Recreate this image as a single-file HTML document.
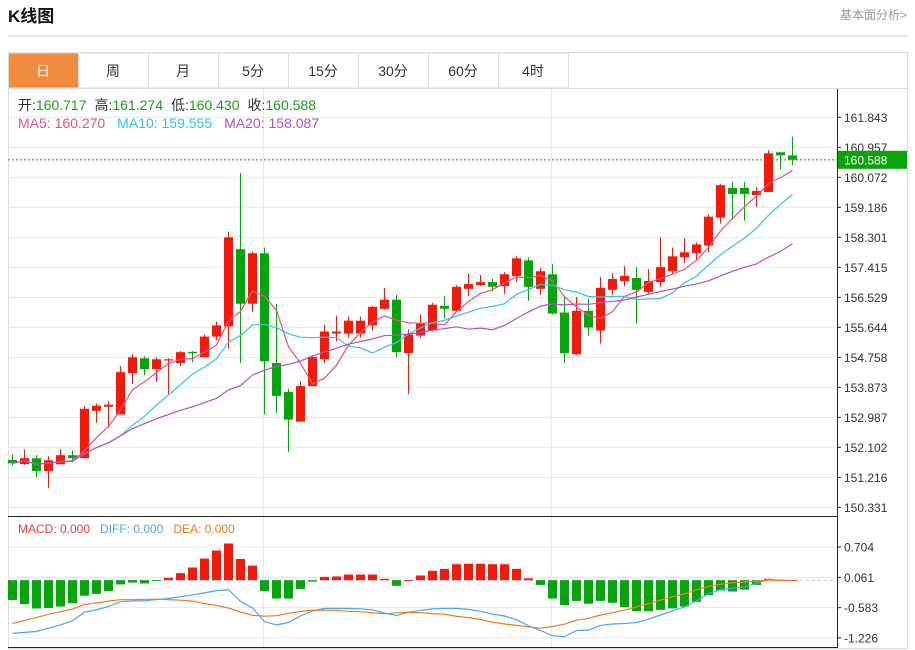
<!DOCTYPE html>
<html><head><meta charset="utf-8">
<style>
body{margin:0;background:#fff;font-family:"Liberation Sans","Noto Sans CJK SC",sans-serif;}
#wrap{position:relative;width:915px;height:650px;overflow:hidden;}
.t{font-family:"Liberation Sans","Noto Sans CJK SC",sans-serif;}
</style></head>
<body>
<div id="wrap">
<svg id="svg" width="915" height="650" xmlns="http://www.w3.org/2000/svg">
  <text x="8" y="22" font-size="17" font-weight="bold" class="t" fill="#111">K线图</text>
  <text x="907" y="19" font-size="12" text-anchor="end" class="t" fill="#999">基本面分析&gt;</text>
  <line x1="8" y1="36" x2="908" y2="36" stroke="#d0d0d0"/>
  <rect x="8.5" y="52.5" width="899" height="596" fill="none" stroke="#dcdcdc"/>
  <g id="tabs"></g>
  <line x1="8" y1="88.5" x2="908" y2="88.5" stroke="#dcdcdc"/>
  <g id="grid"></g>
  <g id="candles"></g>
  <g id="ma"></g>
  <g id="macd"></g>
  <g id="axis"></g>
  <text x="18" y="110" font-size="14" class="t"><tspan fill="#333">开:</tspan><tspan fill="#1a9e1a">160.717</tspan><tspan fill="#333" dx="8">高:</tspan><tspan fill="#1a9e1a">161.274</tspan><tspan fill="#333" dx="8">低:</tspan><tspan fill="#1a9e1a">160.430</tspan><tspan fill="#333" dx="8">收:</tspan><tspan fill="#1a9e1a">160.588</tspan></text>
  <text x="18" y="128" font-size="14" class="t"><tspan fill="#ee4f7f">MA5: 160.270</tspan><tspan fill="#35c3e0" dx="12">MA10: 159.555</tspan><tspan fill="#b253c8" dx="12">MA20: 158.087</tspan></text>
  <text x="18" y="533" font-size="12" class="t"><tspan fill="#f23a3a">MACD: 0.000</tspan><tspan fill="#4aa8f0" dx="10">DIFF: 0.000</tspan><tspan fill="#f57a1e" dx="10">DEA: 0.000</tspan></text>
</svg>
</div>
<script>
const tabLabels=["日","周","月","5分","15分","30分","60分","4时"];
const opens=[151.73,151.61,151.78,151.40,151.60,151.87,151.78,153.18,153.30,153.07,154.29,154.73,154.41,154.67,154.59,154.92,154.76,155.37,155.67,157.95,156.34,157.83,154.59,153.74,152.86,153.91,154.70,155.46,155.46,155.46,155.70,156.19,156.46,154.88,155.40,155.55,156.28,156.13,156.78,156.89,156.98,156.86,157.16,157.62,156.78,157.21,156.08,154.85,156.13,155.55,156.75,157.01,157.10,156.69,156.98,157.30,157.71,157.83,158.06,158.88,159.76,159.76,159.55,159.64,160.81,160.717];
const closes=[151.63,151.78,151.40,151.72,151.87,151.78,153.24,153.33,153.36,154.32,154.76,154.41,154.70,154.70,154.91,154.88,155.37,155.70,158.30,156.34,157.83,154.64,153.62,152.92,153.91,154.76,155.52,155.52,155.84,155.84,156.25,156.46,154.91,155.43,155.75,156.31,156.19,156.84,156.92,156.98,156.84,157.21,157.68,156.84,157.30,156.05,154.88,156.13,155.64,156.81,157.07,157.16,156.75,157.01,157.42,157.74,157.86,158.09,158.91,159.84,159.58,159.58,159.67,160.78,160.72,160.588];
const highs=[151.90,152.04,151.87,151.84,152.04,152.01,153.33,153.39,153.47,154.50,154.85,154.79,154.76,154.73,154.94,154.94,155.43,155.81,158.47,160.20,157.89,158.00,156.34,153.83,154.06,154.82,155.72,155.99,155.96,155.96,156.28,156.81,156.60,155.58,156.02,156.37,156.57,156.89,157.24,157.19,157.07,157.27,157.74,157.71,157.39,157.51,156.54,156.54,156.48,157.13,157.24,157.45,157.42,157.36,158.30,158.00,158.27,158.15,158.97,159.87,159.93,159.93,159.79,160.87,160.81,161.274];
const lows=[151.55,151.58,151.22,150.90,151.60,151.66,151.78,152.83,152.69,153.07,153.97,154.23,154.03,153.68,154.50,154.61,154.76,155.26,155.02,154.59,156.10,153.07,153.12,151.96,152.86,153.91,154.59,155.23,155.34,155.34,155.55,156.16,154.76,153.68,155.32,155.52,155.90,156.10,156.57,156.86,156.69,156.63,156.98,156.43,156.60,156.02,154.59,154.82,155.40,155.17,156.60,156.86,155.75,156.63,156.84,157.21,157.54,157.65,157.86,158.71,158.82,158.79,159.20,159.64,160.31,160.430];
const macdVals=[-0.42,-0.51,-0.60,-0.59,-0.56,-0.49,-0.33,-0.29,-0.23,-0.09,-0.05,-0.07,-0.01,0.05,0.15,0.27,0.46,0.63,0.78,0.45,0.31,-0.23,-0.39,-0.39,-0.19,-0.03,0.07,0.08,0.12,0.12,0.12,0.03,-0.12,0.00,0.10,0.20,0.24,0.34,0.35,0.35,0.34,0.34,0.24,0.04,-0.10,-0.39,-0.53,-0.44,-0.50,-0.44,-0.48,-0.57,-0.66,-0.66,-0.63,-0.60,-0.56,-0.46,-0.32,-0.22,-0.24,-0.20,-0.10,0.03,0.01,0.00];
const diffVals=[-1.13,-1.11,-1.09,-1.02,-0.95,-0.86,-0.68,-0.63,-0.56,-0.46,-0.44,-0.44,-0.41,-0.39,-0.35,-0.31,-0.27,-0.22,-0.20,-0.45,-0.59,-0.88,-0.95,-0.90,-0.76,-0.65,-0.60,-0.60,-0.60,-0.61,-0.63,-0.70,-0.75,-0.68,-0.64,-0.61,-0.60,-0.60,-0.62,-0.66,-0.72,-0.76,-0.84,-0.97,-1.07,-1.18,-1.20,-1.07,-1.06,-0.96,-0.93,-0.92,-0.90,-0.83,-0.74,-0.65,-0.57,-0.44,-0.29,-0.20,-0.17,-0.14,-0.07,0.02,0.00,-0.01];
const priceTicks=[161.843,160.957,160.072,159.186,158.301,157.415,156.529,155.644,154.758,153.873,152.987,152.102,151.216,150.331];
const macdTicks=[0.704,0.061,-0.583,-1.226];
const lastPrice=160.588;

const NS="http://www.w3.org/2000/svg";
function mk(tag,attrs,parent){const e=document.createElementNS(NS,tag);for(const k in attrs)e.setAttribute(k,attrs[k]);parent.appendChild(e);return e;}
const xOf=i=>12+i*12;
const yP=p=>177.3+(160.072-p)*33.88;
const yM=v=>580.2-v*47.05;
const RED="#f01b0c",GREEN="#07a40d";

// tabs
const tabs=document.getElementById('tabs');
tabLabels.forEach((t,i)=>{
  const x=8+i*70;
  const r=mk('rect',{x:x+0.5,y:53,width:70,height:35,fill:i===0?'#f28b3d':'#fff',stroke:'#dcdcdc'},tabs);
  
  
  const tx=mk('text',{x:x+35,y:76,'font-size':14,'text-anchor':'middle',fill:i===0?'#fff':'#333',class:'t'},tabs);
  tx.textContent=t;
  
  
});

// grid
const grid=document.getElementById('grid');
priceTicks.forEach(p=>{const l=mk('line',{x1:8,x2:837,y1:yP(p),y2:yP(p),stroke:'#e3e9ef'},grid);
  
  });
macdTicks.forEach(v=>{const l=mk('line',{x1:8,x2:837,y1:yM(v),y2:yM(v),stroke:'#e3e9ef'},grid);
  
  });
[263.5,551.5].forEach(x=>{const l=mk('line',{x1:x,x2:x,y1:89,y2:648,stroke:'#e3e9ef'},grid);
  
  });

// candles
const cg=document.getElementById('candles');
opens.forEach((o,i)=>{
  const c=closes[i],up=c>=o,col=up?RED:GREEN,x=xOf(i);
  const w=mk('line',{x1:x+0.5,x2:x+0.5,y1:yP(highs[i]),y2:yP(lows[i]),stroke:col,'stroke-width':1},cg);
  
  
  const top=yP(Math.max(o,c)),bot=yP(Math.min(o,c));
  const b=mk('rect',{x:x-4,y:top,width:9,height:Math.max(1.2,bot-top),fill:col},cg);
  
  
});

// moving averages
function ma(n){return closes.map((_,i)=>{const s=closes.slice(Math.max(0,i-n+1),i+1);return s.reduce((a,b)=>a+b,0)/s.length;});}
const mg=document.getElementById('ma');
[[5,'#ee4f7f','ma5-line'],[10,'#35c3e0','ma10-line'],[20,'#b253c8','ma20-line']].forEach(([n,col,name])=>{
  const pts=ma(n).map((v,i)=>xOf(i)+0.5+','+yP(v).toFixed(1)).join(' ');
  const pl=mk('polyline',{points:pts,fill:'none',stroke:col,'stroke-width':1.2},mg);
  
  
});

// last price line
const axis=document.getElementById('axis');
const lp=mk('line',{x1:8,x2:837,y1:yP(lastPrice),y2:yP(lastPrice),stroke:'#13a813','stroke-dasharray':'2,2'},axis);



// macd panel
const mp=document.getElementById('macd');
const sep=mk('line',{x1:8,x2:837,y1:516.5,y2:516.5,stroke:'#222'},mp);


const z=mk('line',{x1:8,x2:837,y1:yM(0),y2:yM(0),stroke:'#a8d4ea','stroke-dasharray':'3,3'},mp);


macdVals.forEach((v,i)=>{
  const x=xOf(i),y0=yM(0),y1=yM(v);
  const r=mk('rect',{x:x-4,y:Math.min(y0,y1),width:9,height:Math.max(0.8,Math.abs(y1-y0)),fill:v>=0?RED:GREEN},mp);
  
  
});
const deaVals=diffVals.map((d,i)=>d-macdVals[i]/2);
const dl=mk('polyline',{points:diffVals.map((v,i)=>xOf(i)+0.5+','+yM(v).toFixed(1)).join(' '),fill:'none',stroke:'#4aa8f0','stroke-width':1.2},mp);


const el=mk('polyline',{points:deaVals.map((v,i)=>xOf(i)+0.5+','+yM(v).toFixed(1)).join(' '),fill:'none',stroke:'#f57a1e','stroke-width':1.2},mp);


const bl=mk('line',{x1:8,x2:837,y1:647.5,y2:647.5,stroke:'#222'},mp);



// axis
const av=mk('line',{x1:837.5,x2:837.5,y1:89,y2:648,stroke:'#222'},axis);


priceTicks.forEach(p=>{
  const y=yP(p);
  const t=mk('line',{x1:837,x2:841,y1:y,y2:y,stroke:'#222'},axis);
  
  
  const tx=mk('text',{x:844,y:y+4.5,'font-size':12,fill:'#333',class:'t'},axis);
  tx.textContent=p.toFixed(3);
  
  
});
macdTicks.forEach(v=>{
  const y=yM(v);
  const t=mk('line',{x1:837,x2:841,y1:y,y2:y,stroke:'#222'},axis);
  
  
  const tx=mk('text',{x:844,y:y+4.5,'font-size':12,fill:'#333',class:'t'},axis);
  tx.textContent=v.toFixed(3);
  
  
});
const ly=yP(lastPrice);
const bx=mk('rect',{x:838,y:ly-9,width:69,height:18,fill:'#0aa40a'},axis);


const bt=mk('text',{x:844,y:ly+4.5,'font-size':12,fill:'#fff',class:'t'},axis);
bt.textContent=lastPrice.toFixed(3);


</script>
</body></html>
